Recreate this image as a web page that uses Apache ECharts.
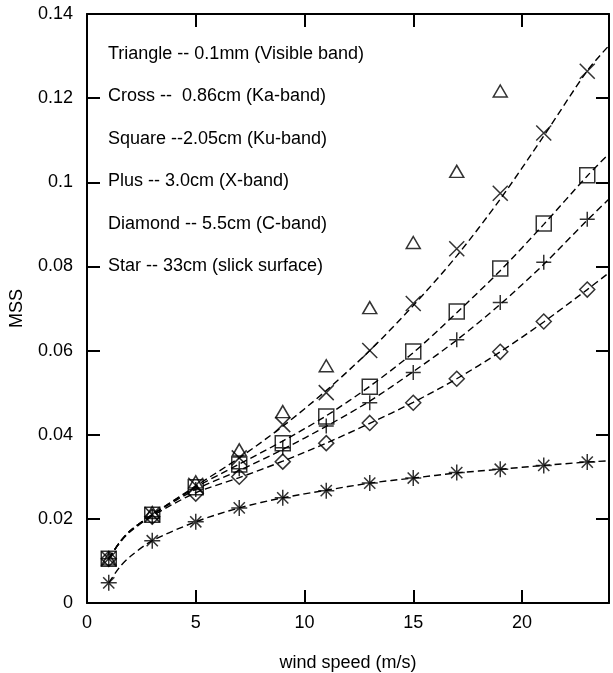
<!DOCTYPE html>
<html><head><meta charset="utf-8">
<script src="https://cdn.jsdelivr.net/npm/echarts@6/dist/echarts.min.js"></script>
<style>html,body{margin:0;padding:0;background:#fff}#c{width:613px;height:673px}</style>
</head><body><div id="c"></div>
<script>
// Data
const windSpeed = [1, 3, 5, 7, 9, 11, 13, 15, 17, 19, 21, 23];
const triangle = [0.0105, 0.0215, 0.0288, 0.0364, 0.0455, 0.0564, 0.0702, 0.0857, 0.1026, 0.1217];
const cross    = [0.0105, 0.021, 0.028, 0.0345, 0.0424, 0.050, 0.060, 0.0712, 0.0842, 0.0974, 0.1117, 0.1264];
const square   = [0.0105, 0.021, 0.0275, 0.0329, 0.038, 0.0443, 0.0514, 0.0598, 0.0693, 0.0795, 0.0902, 0.1017];
const plus     = [0.0105, 0.0205, 0.027, 0.0319, 0.0369, 0.0421, 0.0476, 0.0548, 0.0626, 0.0714, 0.081, 0.0912];
const diamond  = [0.0105, 0.0205, 0.026, 0.030, 0.0336, 0.038, 0.0428, 0.0476, 0.0533, 0.0597, 0.0669, 0.0745];
const star     = [0.0048, 0.0148, 0.0193, 0.0226, 0.025, 0.0267, 0.0285, 0.0297, 0.031, 0.0318, 0.0327, 0.0335];

// Dashed fit curves
const curveX     = [1, 1.5, 2, 3, 5, 7, 9, 11, 13, 15, 17, 19, 21, 23, 24];
const crossFit   = [0.0105, 0.0144, 0.0172, 0.021, 0.0278, 0.0345, 0.042, 0.0505, 0.060, 0.0707, 0.0825, 0.096, 0.111, 0.1265, 0.1325];
const squareFit  = [0.0105, 0.0144, 0.0172, 0.021, 0.0275, 0.033, 0.0385, 0.0445, 0.0515, 0.0595, 0.069, 0.079, 0.090, 0.1015, 0.1068];
const plusFit    = [0.0105, 0.0144, 0.0172, 0.021, 0.027, 0.0315, 0.0365, 0.042, 0.048, 0.055, 0.0625, 0.071, 0.0805, 0.091, 0.096];
const diamondFit = [0.0105, 0.0143, 0.0170, 0.0207, 0.0262, 0.0298, 0.0337, 0.038, 0.0427, 0.0477, 0.0533, 0.0597, 0.0668, 0.0745, 0.0785];
const starFit    = [0.0048, 0.0085, 0.0111, 0.0148, 0.0193, 0.0226, 0.025, 0.0268, 0.0285, 0.0297, 0.0309, 0.0318, 0.0327, 0.0335, 0.0338];

const notes = [
  'Triangle -- 0.1mm (Visible band)',
  'Cross --  0.86cm (Ka-band)',
  'Square --2.05cm (Ku-band)',
  'Plus -- 3.0cm (X-band)',
  'Diamond -- 5.5cm (C-band)',
  'Star -- 33cm (slick surface)'
];

const FONT = '"Liberation Sans", Arial, Helvetica, sans-serif';
const FS = 18;
const pairs = (xs, ys) => ys.map((v, i) => [xs[i], v]);

const SYM = {
  triangle: 'triangle',
  cross: 'path://M0,0L10,10M10,0L0,10',
  square: 'rect',
  plus: 'path://M5,0L5,10M0,5L10,5',
  diamond: 'diamond',
  star: 'path://M5,0L5,10M0,5L10,5M1.5,1.5L8.5,8.5M8.5,1.5L1.5,8.5'
};

function markers(name, ys, sym, size) {
  return {
    type: 'scatter', name, data: pairs(windSpeed, ys), symbol: sym, symbolSize: size,
    symbolKeepAspect: true, z: 3,
    itemStyle: { color: 'rgba(255,255,255,0)', borderColor: '#000', borderWidth: 1.5 }
  };
}
function fit(name, ys) {
  return {
    type: 'line', name, data: pairs(curveX, ys), showSymbol: false, smooth: 0.3, z: 2,
    lineStyle: { color: '#000', width: 1.4, type: [7, 4] }
  };
}

const chart = echarts.init(document.getElementById('c'));
const axisCommon = {
  type: 'value', min: 0,
  axisLine: { show: true, onZero: false, lineStyle: { color: '#000', width: 2 } },
  axisTick: { show: true, inside: true, length: 13, lineStyle: { color: '#000', width: 2 } },
  splitLine: { show: false }
};
chart.setOption({
  animation: false,
  grid: { left: 87, right: 4, top: 14, bottom: 70, containLabel: false, outerBoundsMode: 'none' },
  xAxis: [
    Object.assign({}, axisCommon, {
      max: 24, interval: 5, position: 'bottom',
      name: 'wind speed (m/s)', nameLocation: 'middle', nameGap: 51,
      nameTextStyle: { fontFamily: FONT, fontSize: FS, color: '#000' },
      axisLabel: { fontFamily: FONT, fontSize: FS, color: '#000', margin: 11,
        showMaxLabel: false }
    }),
    Object.assign({}, axisCommon, {
      max: 24, interval: 5, position: 'top', axisLabel: { show: false }
    })
  ],
  yAxis: [
    Object.assign({}, axisCommon, {
      max: 0.14, interval: 0.02, position: 'left',
      name: 'MSS', nameLocation: 'middle', nameGap: 61, nameRotate: 90,
      nameTextStyle: { fontFamily: FONT, fontSize: FS, color: '#000' },
      axisLabel: { fontFamily: FONT, fontSize: FS, color: '#000', margin: 14,
        formatter: v => String(+v.toFixed(2)) }
    }),
    Object.assign({}, axisCommon, {
      max: 0.14, interval: 0.02, position: 'right', axisLabel: { show: false }
    })
  ],
  graphic: notes.map((t, i) => ({
    type: 'text', x: 108, y: 54 + i * 42.4,
    style: { text: t, fontFamily: FONT, fontSize: FS, fill: '#000', verticalAlign: 'middle' }
  })),
  series: [
    fit('crossFit', crossFit),
    fit('squareFit', squareFit),
    fit('plusFit', plusFit),
    fit('diamondFit', diamondFit),
    fit('starFit', starFit),
    markers('Triangle', triangle, SYM.triangle, [14, 12]),
    markers('Cross', cross, SYM.cross, 15),
    markers('Square', square, SYM.square, 15),
    markers('Plus', plus, SYM.plus, 15),
    markers('Diamond', diamond, SYM.diamond, [15, 15]),
    markers('Star', star, SYM.star, 16)
  ]
});
</script></body></html>
